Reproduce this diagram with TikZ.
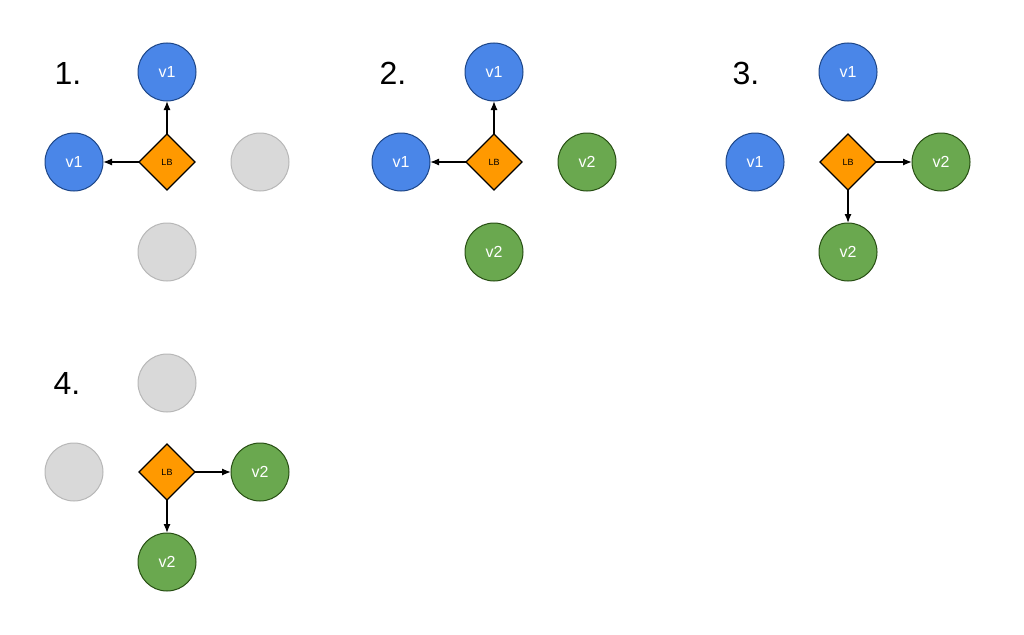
\documentclass[tikz,border=0pt]{standalone}
\usepackage{fontspec}
\setmainfont{Liberation Sans}
\usetikzlibrary{shapes.geometric,arrows.meta}

\definecolor{vblue}{HTML}{4A86E8}
\definecolor{vblueline}{HTML}{1C4587}
\definecolor{vgreen}{HTML}{6AA84F}
\definecolor{vgreenline}{HTML}{274E13}
\definecolor{vgray}{HTML}{D9D9D9}
\definecolor{vgrayline}{HTML}{B7B7B7}
\definecolor{lborange}{HTML}{FF9900}

\tikzset{
  vone/.style={shape=circle,draw=vblueline,fill=vblue,line width=1pt,minimum size=58pt,inner sep=0pt,outer sep=0pt,text=white,font=\fontsize{16}{18}\selectfont},
  vtwo/.style={shape=circle,draw=vgreenline,fill=vgreen,line width=1pt,minimum size=58pt,inner sep=0pt,outer sep=0pt,text=white,font=\fontsize{16}{18}\selectfont},
  vfree/.style={shape=circle,draw=vgrayline,fill=vgray,line width=1pt,minimum size=58pt,inner sep=0pt,outer sep=0pt},
  lb/.style={shape=diamond,draw=black,fill=lborange,line width=1.3pt,minimum size=56pt,inner sep=0pt,outer sep=0pt,font=\fontsize{9}{10}\selectfont},
  steplabel/.style={font=\fontsize{32}{34}\selectfont},
  link/.style={-{Latex[length=9pt,width=7pt]},line width=1.3pt}
}

\begin{document}
\begin{tikzpicture}[x=1pt,y=-1pt]
            \useasboundingbox (0,0) rectangle (1024,634);

            % panel 1
            \node[steplabel] (s1) at (68,73) {1.};
            \node[lb] (lb1) at (167,162) {LB};
            \node[vone] (a1) at (167,72) {v1};
            \node[vone] (b1) at (74,162) {v1};
            \node[vfree] (c1) at (260,162) {};
            \node[vfree] (d1) at (167,252) {};
            \path [link](lb1) edge (a1);
            \path [link](lb1) edge (b1);

            % panel 2
            \node[steplabel] (s2) at (393,73) {2.};
            \node[lb] (lb2) at (494,162) {LB};
            \node[vone] (a2) at (494,72) {v1};
            \node[vone] (b2) at (401,162) {v1};
            \node[vtwo] (c2) at (587,162) {v2};
            \node[vtwo] (d2) at (494,252) {v2};
            \path [link](lb2) edge (a2);
            \path [link](lb2) edge (b2);

            % panel 3
            \node[steplabel] (s3) at (746,73) {3.};
            \node[lb] (lb3) at (848,162) {LB};
            \node[vone] (a3) at (848,72) {v1};
            \node[vone] (b3) at (755,162) {v1};
            \node[vtwo] (c3) at (941,162) {v2};
            \node[vtwo] (d3) at (848,252) {v2};
            \path [link](lb3) edge (c3);
            \path [link](lb3) edge (d3);

            % panel 4
            \node[steplabel] (s4) at (67,383) {4.};
            \node[lb] (lb4) at (167,472) {LB};
            \node[vfree] (a4) at (167,383) {};
            \node[vfree] (b4) at (74,472) {};
            \node[vtwo] (c4) at (260,472) {v2};
            \node[vtwo] (d4) at (167,562) {v2};
            \path [link](lb4) edge (c4);
            \path [link](lb4) edge (d4);
\end{tikzpicture}
\end{document}
